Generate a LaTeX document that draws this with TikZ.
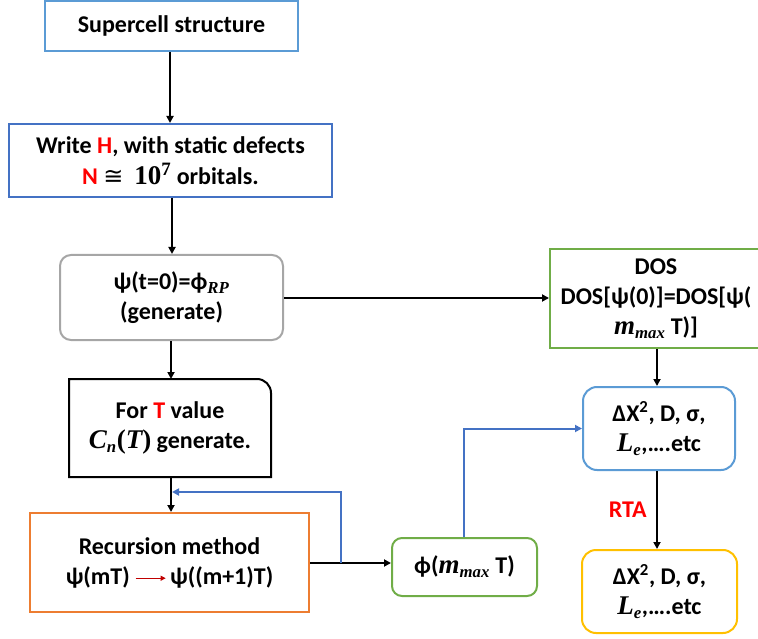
\documentclass[tikz,border=0pt]{standalone}
\usepackage{fontspec}
\setmainfont{Carlito}
\newfontfamily\cmbfont{Liberation Serif}
\newfontfamily\symfont{DejaVu Sans}
\newcommand{\mv}[1]{{\cmbfont\bfseries\itshape #1}}
\newcommand{\mvb}[1]{{\fontsize{27}{30}\selectfont\cmbfont\bfseries\itshape #1}}
\newcommand{\mup}[1]{{\fontsize{27}{30}\selectfont\cmbfont\bfseries #1}}
\usetikzlibrary{arrows.meta}
\definecolor{lblue}{HTML}{5B9BD5}
\definecolor{dblue}{HTML}{4472C4}
\definecolor{boxgray}{HTML}{A6A6A6}
\definecolor{boxgreen}{HTML}{70AD47}
\definecolor{boxorange}{HTML}{ED7D31}
\definecolor{boxyellow}{HTML}{FFC000}
\definecolor{txtred}{HTML}{FF0000}
\definecolor{darkred}{HTML}{C00000}
\tikzset{
  box/.style={inner sep=0pt, align=center, line width=2pt,
    font=\fontsize{24}{30}\selectfont\bfseries\boldmath},
  flow/.style={line width=2pt, -{Triangle[length=7pt,width=7pt]}},
  bflow/.style={line width=2pt, dblue, -{Triangle[length=7pt,width=7pt]}},
}
\begin{document}
\begin{tikzpicture}[x=1pt,y=-1pt]
\useasboundingbox (0,0) rectangle (758,639);
\node[box, draw=lblue, minimum width=253pt, minimum height=50pt] (sup) at (171.5,26) {Supercell structure};
\node[box, draw=dblue, minimum width=323pt, minimum height=73pt] (wh) at (170.5,160.5)
  {Write \textcolor{txtred}{H}, with static defects\\[1pt] \textcolor{txtred}{N} {\symfont\mdseries ≅}\ \ \mup{10\textsuperscript{7}} orbitals.};
\node[box, draw=boxgray, rounded corners=11pt, minimum width=223pt, minimum height=85pt] (psi) at (171.5,297.5)
  {ψ(t=0)=ϕ\textsubscript{\mv{RP}}\\(generate)};
\node[box, minimum width=200pt, minimum height=96pt] (fort) at (170,428)
  {For \textcolor{txtred}{T} value\\ \mvb{C}\textsubscript{\mv{n}}\mup{(}\mvb{T}\mup{)} generate.};
\draw[line width=2pt] (fort.south west) -- (fort.north west) -- ([xshift=-14pt]fort.north east)
  arc[start angle=90, end angle=0, radius=14pt] -- (fort.south east) -- cycle;
\node[box, draw=boxorange, minimum width=279pt, minimum height=99pt] (rec) at (169.5,562.5)
  {Recursion method\\ ψ(mT) \tikz[baseline=-0.5ex]\draw[line width=0.8pt, darkred, -{Triangle[length=5pt,width=5pt]}] (0,0) -- (30pt,0);\,ψ((m+1)T)};
\node[box, draw=boxgreen, rounded corners=10pt, minimum width=145pt, minimum height=58pt] (phi) at (464.5,567)
  {ϕ(\mvb{m}\textsubscript{\mv{max}} T)};
\node[box, draw=boxgreen, minimum width=212pt, minimum height=99pt] (dos) at (656,298.5)
  {DOS\\ DOS[ψ(0)]=DOS[ψ(\\ \mvb{m}\textsubscript{\mv{max}} T)]};
\node[box, draw=lblue, rounded corners=14pt, minimum width=152pt, minimum height=83pt] (dx) at (659,428.5)
  {ΔX\textsuperscript{2}, D, σ,\\ \mvb{L}\textsubscript{\mv{e}},….etc};
\node[box, draw=boxyellow, rounded corners=14pt, minimum width=155pt, minimum height=83pt] (yel) at (659.5,591.5)
  {ΔX\textsuperscript{2}, D, σ,\\ \mvb{L}\textsubscript{\mv{e}},….etc};
\draw[flow] (sup.south -| 170,0) -- (wh.north -| 170,0);
\draw[flow] (wh.south -| 172,0) -- (psi.north -| 172,0);
\draw[flow] (psi.south -| 171,0) -- (fort.north -| 171,0);
\draw[flow] (fort.south -| 171,0) -- (rec.north -| 171,0);
\draw[flow] (psi.east |- 0,298) -- (dos.west |- 0,298);
\draw[flow] (dos.south -| 657,0) -- (dx.north -| 657,0);
\draw[flow] (dx.south -| 657,0) -- node[left=6pt, font=\fontsize{24}{28}\selectfont\bfseries, text=txtred] {RTA} (yel.north -| 657,0);
\draw[flow] (rec.east |- 0,563) -- (phi.west |- 0,563);
\coordinate (fb) at (341,563);
\coordinate (fbend) at (172,492);
\draw[bflow] (fb) |- (fbend);
\draw[bflow] (phi.north -| 464,0) |- (dx.west);
\end{tikzpicture}
\end{document}
